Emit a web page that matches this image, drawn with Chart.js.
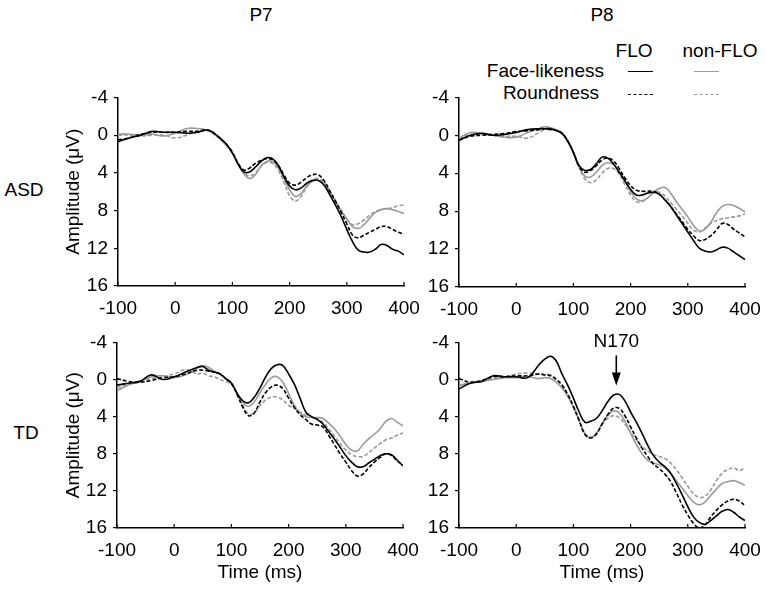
<!DOCTYPE html>
<html>
<head>
<meta charset="utf-8">
<script src="https://cdn.jsdelivr.net/npm/chart.js@4.4.0/dist/chart.umd.min.js"></script>
<style>
  body { margin: 0; background: #fff; width: 766px; height: 591px; position: relative; overflow: hidden;
         font-family: "Liberation Sans", Arial, sans-serif; color: #000; }
  canvas { position: absolute; }
  .t { position: absolute; font-size: 19px; line-height: 1; white-space: nowrap; }
  .c { transform: translate(-50%, -50%); }
  .r { transform: translate(-100%, -50%); }
  .ln { position: absolute; height: 0; width: 25px; }
</style>
</head>
<body>
<div class="t c" style="left:261px;top:14px">P7</div>
<div class="t c" style="left:602px;top:14px">P8</div>
<div class="t c" style="left:24px;top:189px">ASD</div>
<div class="t c" style="left:26px;top:432px">TD</div>

<div class="t c" style="left:634px;top:50px">FLO</div>
<div class="t c" style="left:720px;top:50px">non-FLO</div>
<div class="t r" style="left:604px;top:70px">Face-likeness</div>
<div class="t r" style="left:599px;top:92px">Roundness</div>
<div class="ln" style="left:628px;top:71px;border-top:1.5px solid #000"></div>
<div class="ln" style="left:694px;top:71px;border-top:1.5px solid #9a9a9a"></div>
<div class="ln" style="left:628px;top:94px;border-top:1.5px dashed #000"></div>
<div class="ln" style="left:694px;top:94px;border-top:1.5px dashed #9a9a9a"></div>

<canvas id="asdP7" width="378" height="235" style="left:52px;top:80px"></canvas>
<canvas id="asdP8" width="366" height="235" style="left:400px;top:80px"></canvas>
<canvas id="tdP7" width="378" height="266" style="left:52px;top:325px"></canvas>
<canvas id="tdP8" width="366" height="266" style="left:400px;top:325px"></canvas>

<script>
// time points (ms)
var times = [-100,-80,-60,-40,-20,0,20,40,50,60,70,80,90,100,110,120,130,140,150,160,170,180,190,200,
             210,220,230,240,250,260,270,280,290,300,310,320,330,340,350,360,370,380,390,400];
var xTicks = [-100, 0, 100, 200, 300, 400];
var yTicks = [-4, 0, 4, 8, 12, 16];

// ASD, P7
var asdP7FaceFlo  = [0.7,0.3,0.0,-0.4,-0.3,-0.3,-0.2,-0.3,-0.5,-0.5,-0.1,0.4,1.0,1.9,3.1,3.9,3.9,3.4,2.8,2.4,2.5,3.2,4.4,5.4,5.8,5.6,5.1,4.8,4.8,5.3,6.3,7.4,8.6,10.0,11.3,12.2,12.4,12.4,12.1,11.6,11.7,12.1,12.3,12.7];
var asdP7FaceNon  = [-0.1,-0.1,0.0,-0.1,0.1,-0.2,-0.7,-0.7,-0.6,-0.4,0.0,0.5,1.1,1.9,3.0,4.1,4.6,4.2,3.3,2.8,2.8,3.4,4.6,5.8,6.5,6.2,5.4,4.9,4.8,5.1,6.0,7.0,8.0,8.9,9.7,9.9,9.5,8.8,8.2,7.9,7.8,7.9,8.1,8.3];
var asdP7RoundFlo = [0.5,0.3,-0.1,-0.3,-0.3,-0.3,-0.4,-0.4,-0.5,-0.5,-0.1,0.4,1.0,1.8,3.0,3.7,3.5,3.0,2.7,2.5,2.6,3.2,4.2,5.1,5.3,5.0,4.5,4.2,4.2,4.8,5.9,7.0,8.2,9.4,10.6,10.9,10.6,10.3,10.0,9.7,9.7,10.0,10.3,10.5];
var asdP7RoundNon = [0.0,0.0,0.1,0.0,0.0,0.3,0.0,-0.5,-0.6,-0.4,0.0,0.5,1.1,1.9,3.0,4.0,4.3,4.0,3.3,2.9,3.0,3.7,5.0,6.4,7.0,6.5,5.5,4.8,4.6,5.0,5.9,6.9,7.9,8.9,9.5,9.4,9.0,8.5,8.1,7.9,7.8,7.7,7.5,7.4];

// ASD, P8
var asdP8FaceFlo  = [0.5,0.0,-0.2,0.0,-0.1,-0.3,-0.6,-0.7,-0.7,-0.7,-0.5,-0.2,0.6,1.8,3.2,3.7,3.6,3.0,2.3,2.4,3.0,3.9,4.8,5.7,6.3,6.3,6.1,6.0,6.2,6.8,7.5,8.4,9.3,10.2,11.1,11.9,12.2,12.3,12.1,11.8,11.9,12.3,12.7,13.1];
var asdP8FaceNon  = [0.3,-0.3,-0.2,0.0,0.2,0.2,-0.3,-0.7,-0.9,-0.8,-0.6,-0.3,0.6,1.8,3.3,4.3,4.4,3.9,3.2,2.9,3.1,3.8,4.8,5.9,6.7,6.9,6.6,6.0,5.6,5.5,6.1,7.0,7.8,8.6,9.5,10.1,9.9,9.2,8.2,7.5,7.3,7.4,7.7,8.1];
var asdP8RoundFlo = [0.5,0.1,0.0,-0.1,-0.2,-0.4,-0.5,-0.6,-0.7,-0.6,-0.5,-0.2,0.6,1.8,3.3,3.9,3.7,3.2,2.6,2.4,2.7,3.5,4.5,5.3,5.8,5.9,5.9,5.9,6.2,6.8,7.5,8.3,9.1,9.9,10.6,11.1,11.0,10.6,10.0,9.3,9.4,9.9,10.3,10.7];
var asdP8RoundNon = [0.3,-0.1,-0.1,-0.1,0.1,0.1,0.3,-0.3,-0.6,-0.6,-0.5,-0.2,0.6,1.9,3.4,4.6,5.0,4.7,4.0,3.5,3.5,4.1,5.2,6.3,7.0,7.0,6.6,6.1,6.0,6.4,7.1,7.8,8.5,9.3,10.0,10.2,9.8,9.3,9.0,8.8,8.7,8.6,8.5,8.3];

// TD, P7
var tdP7FaceFlo  = [0.6,0.4,0.2,-0.5,0.0,-0.3,-0.8,-1.3,-1.4,-1.0,-0.8,-0.6,-0.1,0.4,1.5,2.3,2.5,1.9,0.9,-0.3,-1.2,-1.6,-1.5,-0.6,0.5,2.0,3.5,4.0,4.3,4.8,5.6,6.4,7.3,8.2,8.9,9.4,9.4,9.0,8.6,8.2,8.0,8.1,8.7,9.3];
var tdP7FaceNon  = [1.2,0.6,0.2,-0.3,-0.4,-0.2,-0.5,-1.2,-1.5,-1.3,-0.9,-0.6,-0.1,0.4,1.5,2.5,2.9,2.4,1.4,0.5,-0.2,-0.3,0.3,1.5,2.8,3.6,4.0,4.1,4.1,4.2,4.7,5.3,6.1,7.0,7.6,7.7,7.0,6.4,5.9,5.3,4.5,4.2,4.6,5.0];
var tdP7RoundFlo = [-0.1,0.2,0.3,0.1,-0.2,-0.3,-0.6,-1.0,-1.0,-0.9,-0.8,-0.6,-0.1,0.4,1.6,3.0,3.9,3.6,2.4,1.4,0.8,0.6,1.0,2.0,3.0,3.8,4.3,4.8,4.9,5.1,6.0,7.0,8.0,8.9,9.8,10.4,10.2,9.5,8.9,8.4,8.0,8.2,8.8,9.2];
var tdP7RoundNon = [0.9,0.5,0.2,-0.1,-0.3,-0.6,-1.05,-0.6,-0.7,-0.4,-0.3,0.0,0.2,0.5,1.6,2.8,3.7,3.6,2.8,2.2,1.9,1.9,2.2,2.8,3.1,3.5,3.8,4.0,4.2,4.6,5.3,6.1,6.9,7.6,8.1,8.3,8.3,7.9,7.4,6.9,6.5,6.3,6.0,5.75];

// TD, P8
var tdP8FaceFlo  = [1.0,0.4,0.2,-0.4,-0.3,-0.3,-0.2,-1.6,-2.2,-2.5,-2.0,-0.6,0.6,2.0,3.5,4.6,4.5,4.2,3.4,2.4,1.7,1.6,2.3,3.5,4.6,5.8,7.1,8.2,8.9,9.4,10.1,11.2,12.4,13.7,14.8,15.4,15.6,15.2,14.7,14.2,14.0,14.3,14.8,15.2];
var tdP8FaceNon  = [0.6,0.4,0.2,0.0,-0.2,-0.2,-0.3,-0.1,-0.2,-0.1,0.3,0.9,1.8,3.0,4.4,5.8,6.3,5.8,4.8,3.9,3.4,3.6,4.5,5.8,7.0,8.0,8.7,9.0,9.2,9.5,10.1,10.9,11.7,12.5,13.2,13.5,13.2,12.5,11.8,11.2,11.0,10.9,11.1,11.4];
var tdP8RoundFlo = [-0.1,0.3,0.1,-0.3,-0.3,-0.4,-0.4,-0.6,-0.5,-0.4,0.0,0.6,1.6,2.9,4.4,5.9,6.3,5.9,4.8,3.8,3.1,3.1,3.9,5.1,6.3,7.4,8.3,9.1,9.6,10.2,11.0,12.2,13.5,14.6,15.5,16.0,15.7,14.8,14.1,13.5,13.1,12.9,13.1,13.6];
var tdP8RoundNon = [0.7,0.3,0.1,-0.1,-0.3,-0.6,-0.7,-0.6,-0.5,-0.5,-0.1,0.6,1.6,2.9,4.4,5.8,6.2,5.8,4.9,4.2,3.9,4.1,4.8,5.7,6.5,7.2,7.7,8.1,8.3,8.5,9.0,9.7,10.6,11.5,12.3,12.7,12.6,11.9,10.9,10.1,9.7,9.5,9.8,9.5];

// N170 marker
var n170Label = 'N170';
var n170Time = 175;

var black = '#000';
var gray = '#9a9a9a';

function series(label, values, color, dash) {
    return {
        label: label,
        data: times.map(function (t, i) { return { x: t, y: values[i] }; }),
        borderColor: color,
        borderWidth: 1.6,
        borderDash: dash,
        pointRadius: 0,
        tension: 0.4,
        fill: false
    };
}

// x ticks point up into the plot
var innerTicks = {
    id: 'innerTicks',
    afterDraw: function (chart) {
        var ctx = chart.ctx, x = chart.scales.x, b = chart.chartArea.bottom;
        ctx.save();
        ctx.strokeStyle = black;
        ctx.lineWidth = 1.2;
        xTicks.forEach(function (v) {
            var px = x.getPixelForValue(v);
            ctx.beginPath();
            ctx.moveTo(px, b);
            ctx.lineTo(px, b - 4);
            ctx.stroke();
        });
        ctx.restore();
    }
};

var n170Marker = {
    id: 'n170Marker',
    afterDatasetsDraw: function (chart) {
        var ctx = chart.ctx;
        var px = chart.scales.x.getPixelForValue(n170Time);
        var top = chart.chartArea.top;
        ctx.save();
        ctx.fillStyle = black;
        ctx.strokeStyle = black;
        ctx.font = '19px "Liberation Sans", Arial, sans-serif';
        ctx.textAlign = 'center';
        ctx.textBaseline = 'middle';
        ctx.fillText(n170Label, px, top - 1);
        ctx.lineWidth = 1.6;
        ctx.beginPath();
        ctx.moveTo(px, top + 13);
        ctx.lineTo(px, top + 32);
        ctx.stroke();
        ctx.beginPath();
        ctx.moveTo(px - 4.5, top + 30);
        ctx.lineTo(px + 4.5, top + 30);
        ctx.lineTo(px, top + 43);
        ctx.closePath();
        ctx.fill();
        ctx.restore();
    }
};

function panel(id, values, o) {
    var font = { family: '"Liberation Sans", Arial, sans-serif', size: 19 };
    new Chart(document.getElementById(id), {
        type: 'line',
        data: {
            datasets: [
                series('Face-likeness FLO', values[0], black, []),
                series('Roundness FLO', values[2], black, [4, 2]),
                series('Face-likeness non-FLO', values[1], gray, []),
                series('Roundness non-FLO', values[3], gray, [4, 2])
            ]
        },
        options: {
            responsive: false,
            animation: false,
            layout: { padding: { left: 0, right: o.right, top: o.top, bottom: 0 } },
            plugins: { legend: { display: false }, tooltip: { enabled: false } },
            scales: {
                x: {
                    type: 'linear',
                    min: -100,
                    max: 400,
                    afterBuildTicks: function (s) { s.ticks = xTicks.map(function (v) { return { value: v }; }); },
                    afterFit: function (s) { s.height = o.xh; },
                    grid: { display: false },
                    border: { display: true, color: black, width: 1.5 },
                    ticks: { color: black, font: font, padding: 3, maxRotation: 0, autoSkip: false },
                    title: { display: o.xTitle, text: 'Time (ms)', color: black, font: font, padding: { top: 0, bottom: 7 } }
                },
                y: {
                    min: -4,
                    max: 16,
                    reverse: true,
                    afterBuildTicks: function (s) { s.ticks = yTicks.map(function (v) { return { value: v }; }); },
                    afterFit: function (s) { s.width = o.yw; },
                    grid: { drawOnChartArea: false, drawTicks: true, tickLength: 4, color: black, lineWidth: 1.2 },
                    border: { display: true, color: black, width: 1.5 },
                    ticks: { color: black, font: font, padding: 6 },
                    title: { display: o.yTitle, text: 'Amplitude (\u03bcV)', color: black, font: font, padding: { top: 10, bottom: 0 } }
                }
            }
        },
        plugins: o.marker ? [innerTicks, n170Marker] : [innerTicks]
    });
}

panel('asdP7', [asdP7FaceFlo, asdP7FaceNon, asdP7RoundFlo, asdP7RoundNon],
      { yw: 66, xh: 29, top: 15, right: 26, xTitle: false, yTitle: true });
panel('asdP8', [asdP8FaceFlo, asdP8FaceNon, asdP8RoundFlo, asdP8RoundNon],
      { yw: 59, xh: 28, top: 16, right: 21, xTitle: false, yTitle: false });
panel('tdP7', [tdP7FaceFlo, tdP7FaceNon, tdP7RoundFlo, tdP7RoundNon],
      { yw: 65, xh: 63, top: 13, right: 27, xTitle: true, yTitle: true });
panel('tdP8', [tdP8FaceFlo, tdP8FaceNon, tdP8RoundFlo, tdP8RoundNon],
      { yw: 59, xh: 63, top: 13, right: 21, xTitle: true, yTitle: false, marker: true });
</script>
</body>
</html>
